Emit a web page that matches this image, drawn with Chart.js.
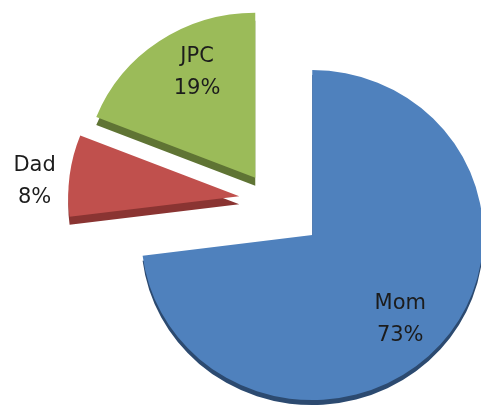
<!DOCTYPE html>
<html>
<head>
<meta charset="utf-8">
<script src="https://cdn.jsdelivr.net/npm/chart.js@4"></script>
<style>
  html, body { margin: 0; padding: 0; background: #fff; }
  #wrap { width: 481px; height: 410px; position: relative; }
</style>
</head>
<body>
<div id="wrap"><canvas id="chart"></canvas></div>
<script>
const labels = ['Mom', 'Dad', 'JPC'];
const shares = [73, 8, 19];

const faceColors = ['#4f81bd', '#c0504d', '#9bbb59'];
const sideColors = ['#2c4a70', '#8a3432', '#5f7434'];
// pull-out distance of each slice, px
const explode = [55, 32, 28];
// thickness of the dark slab edge under each slice
const depth = [5, 8, 8];
// label placement: fraction of radius, and small turn off the mid angle (deg)
const labelDist = [0.725, 1.2, 0.72];
const labelTurn = [3.4, -3, 6];
// slight vertical squash for the tilted look
const tilt = 0.965;

function midAngle(arc) {
  const p = arc.getProps(['startAngle', 'endAngle'], true);
  return (p.startAngle + p.endAngle) / 2;
}

// Chart.js' own offset also grows the radius, so move the slices here instead
const explodePlugin = {
  id: 'explode3d',
  beforeDatasetDraw(chart, args) {
    const ctx = chart.ctx;
    const meta = args.meta;
    const cx = meta.data[0].x;
    const cy = meta.data[0].y;
    const place = (arc, i) => {
      const a = midAngle(arc);
      ctx.translate(cx, cy);
      ctx.scale(1, tilt);
      ctx.translate(-cx, -cy);
      ctx.translate(Math.cos(a) * explode[i], Math.sin(a) * explode[i]);
    };
    // darker copy a few px lower gives the slab edge
    meta.data.forEach((arc, i) => {
      const o = arc.options;
      arc.options = Object.assign({}, o, { backgroundColor: sideColors[i] });
      ctx.save();
      ctx.translate(0, depth[i]);
      place(arc, i);
      arc.draw(ctx);
      ctx.restore();
      arc.options = o;
    });
    meta.data.forEach((arc, i) => {
      ctx.save();
      place(arc, i);
      arc.draw(ctx);
      ctx.restore();
    });
    return false;
  }
};

const labelPlugin = {
  id: 'sliceLabels',
  afterDatasetsDraw(chart) {
    const ctx = chart.ctx;
    const meta = chart.getDatasetMeta(0);
    ctx.save();
    ctx.font = '21px "DejaVu Sans", sans-serif';
    ctx.fillStyle = '#1c1c1c';
    ctx.textAlign = 'center';
    ctx.textBaseline = 'middle';
    meta.data.forEach((arc, i) => {
      const { x, y, outerRadius } = arc.getProps(['x', 'y', 'outerRadius'], true);
      const a = midAngle(arc);
      const t = a + labelTurn[i] * Math.PI / 180;
      const vx = Math.cos(a) * explode[i] + Math.cos(t) * labelDist[i] * outerRadius;
      const vy = Math.sin(a) * explode[i] + Math.sin(t) * labelDist[i] * outerRadius;
      const lx = x + vx;
      const ly = y + vy * tilt;
      ctx.fillText(labels[i], lx, ly - 16);
      ctx.fillText(shares[i] + '%', lx, ly + 16);
    });
    ctx.restore();
  }
};

new Chart(document.getElementById('chart'), {
  type: 'pie',
  data: {
    labels: labels,
    datasets: [{
      data: shares,
      backgroundColor: faceColors,
      borderWidth: 0,
      radius: 171
    }]
  },
  options: {
    responsive: true,
    maintainAspectRatio: false,
    animation: false,
    layout: { padding: { left: 61, right: 0, top: 0, bottom: 10 } },
    plugins: {
      legend: { display: false },
      tooltip: { enabled: false }
    }
  },
  plugins: [explodePlugin, labelPlugin]
});
</script>
</body>
</html>
